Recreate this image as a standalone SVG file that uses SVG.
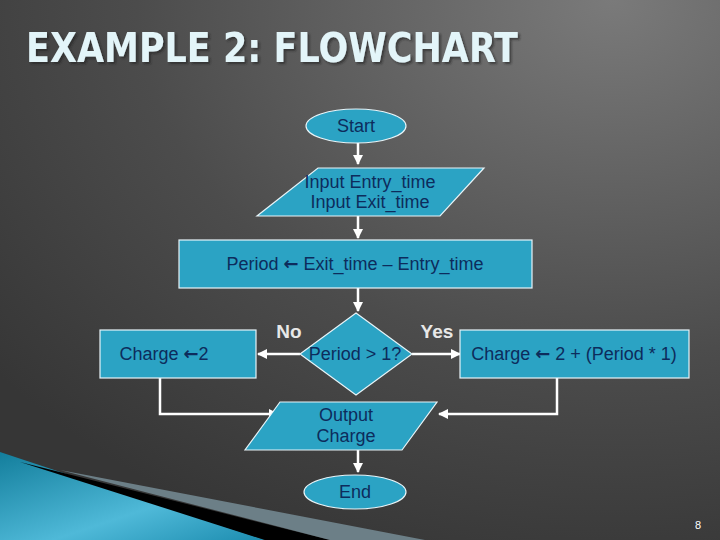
<svg xmlns="http://www.w3.org/2000/svg" width="720" height="540" viewBox="0 0 720 540">
<defs>
<radialGradient id="bg" cx="0.85" cy="0" r="1.1">
<stop offset="0" stop-color="#7a7a7a"/><stop offset="0.6" stop-color="#4c4c4c"/><stop offset="1" stop-color="#363636"/>
</radialGradient>
<linearGradient id="blue" x1="0" y1="0" x2="1" y2="1">
<stop offset="0" stop-color="#137e9c"/><stop offset="0.6" stop-color="#4fb9d8"/><stop offset="1" stop-color="#1d8db0"/>
</linearGradient>
<filter id="sh"><feDropShadow dx="2" dy="2" stdDeviation="1" flood-color="#222" flood-opacity="0.6"/></filter>
<marker id="ah" viewBox="0 0 10 10" refX="9" refY="5" markerWidth="4" markerHeight="4" orient="auto"><path d="M0,0L10,5L0,10z" fill="#fff"/></marker>
<style>
.n{fill:#2ba3c4;stroke:#e8f4f8;stroke-width:1.2}
.t{font-family:"Liberation Sans",Arial,sans-serif;font-size:18px;fill:#0d2c5c;text-anchor:middle}
.a{font-family:"DejaVu Sans",sans-serif;font-weight:bold}
.l{font-family:"Liberation Sans",Arial,sans-serif;font-size:19px;font-weight:bold;fill:#e8e8e8;text-anchor:middle}
.c{fill:none;stroke:#fff;stroke-width:2.5;marker-end:url(#ah)}
</style>
</defs>
<rect width="720" height="540" fill="url(#bg)"/>
<path d="M0,452 L265,540 L0,540z" fill="url(#blue)"/>
<path d="M20,462 L330,540 L265,540z" fill="#000"/>
<path d="M60,470 L425,540 L330,540z" fill="#6c7f87"/>
<text x="26" y="62" font-family="'DejaVu Sans Condensed','DejaVu Sans',sans-serif" font-weight="bold" font-size="40" fill="#e3f5f9" textLength="492" lengthAdjust="spacingAndGlyphs" filter="url(#sh)">EXAMPLE 2: FLOWCHART</text>
<text x="698" y="529" font-family="'Liberation Sans',sans-serif" font-size="11" fill="#fff" text-anchor="middle">8</text>
<g id="connectors">
<path class="c" d="M358,143V164"/>
<path class="c" d="M358,216V238"/>
<path class="c" d="M358,288V311"/>
<path class="c" d="M300,354H258"/>
<path class="c" d="M412,354H460"/>
<path class="c" d="M160,378V414H278"/>
<path class="c" d="M557,378V414H439"/>
<path class="c" d="M358,450V472"/>
</g>
<g id="start"><ellipse class="n" cx="356" cy="126" rx="50" ry="17"/><text class="t" x="356" y="132">Start</text></g>
<g id="input"><path class="n" d="M318,168H484L440,216H257z"/><text class="t" x="370" y="188">Input Entry_time</text><text class="t" x="370" y="208">Input Exit_time</text></g>
<g id="period"><rect class="n" x="179" y="240" width="353" height="48"/><text class="t" x="355" y="270">Period <tspan class="a">←</tspan> Exit_time – Entry_time</text></g>
<g id="decision"><path class="n" d="M356,313L412,354L356,395L300,354z"/><text class="t" x="355" y="360">Period &gt; 1?</text></g>
<g id="charge2"><rect class="n" x="100" y="330" width="156" height="48"/><text class="t" x="164" y="360">Charge <tspan class="a">←</tspan>2</text></g>
<g id="chargeP"><rect class="n" x="460" y="330" width="229" height="48"/><text class="t" x="574" y="360">Charge <tspan class="a">←</tspan> 2 + (Period * 1)</text></g>
<g id="output"><path class="n" d="M280,402H437L402,450H245z"/><text class="t" x="346" y="421">Output</text><text class="t" x="346" y="442">Charge</text></g>
<g id="end"><ellipse class="n" cx="355" cy="492" rx="51" ry="17"/><text class="t" x="355" y="498">End</text></g>
<text class="l" x="289" y="338">No</text>
<text class="l" x="437" y="338">Yes</text>
</svg>
